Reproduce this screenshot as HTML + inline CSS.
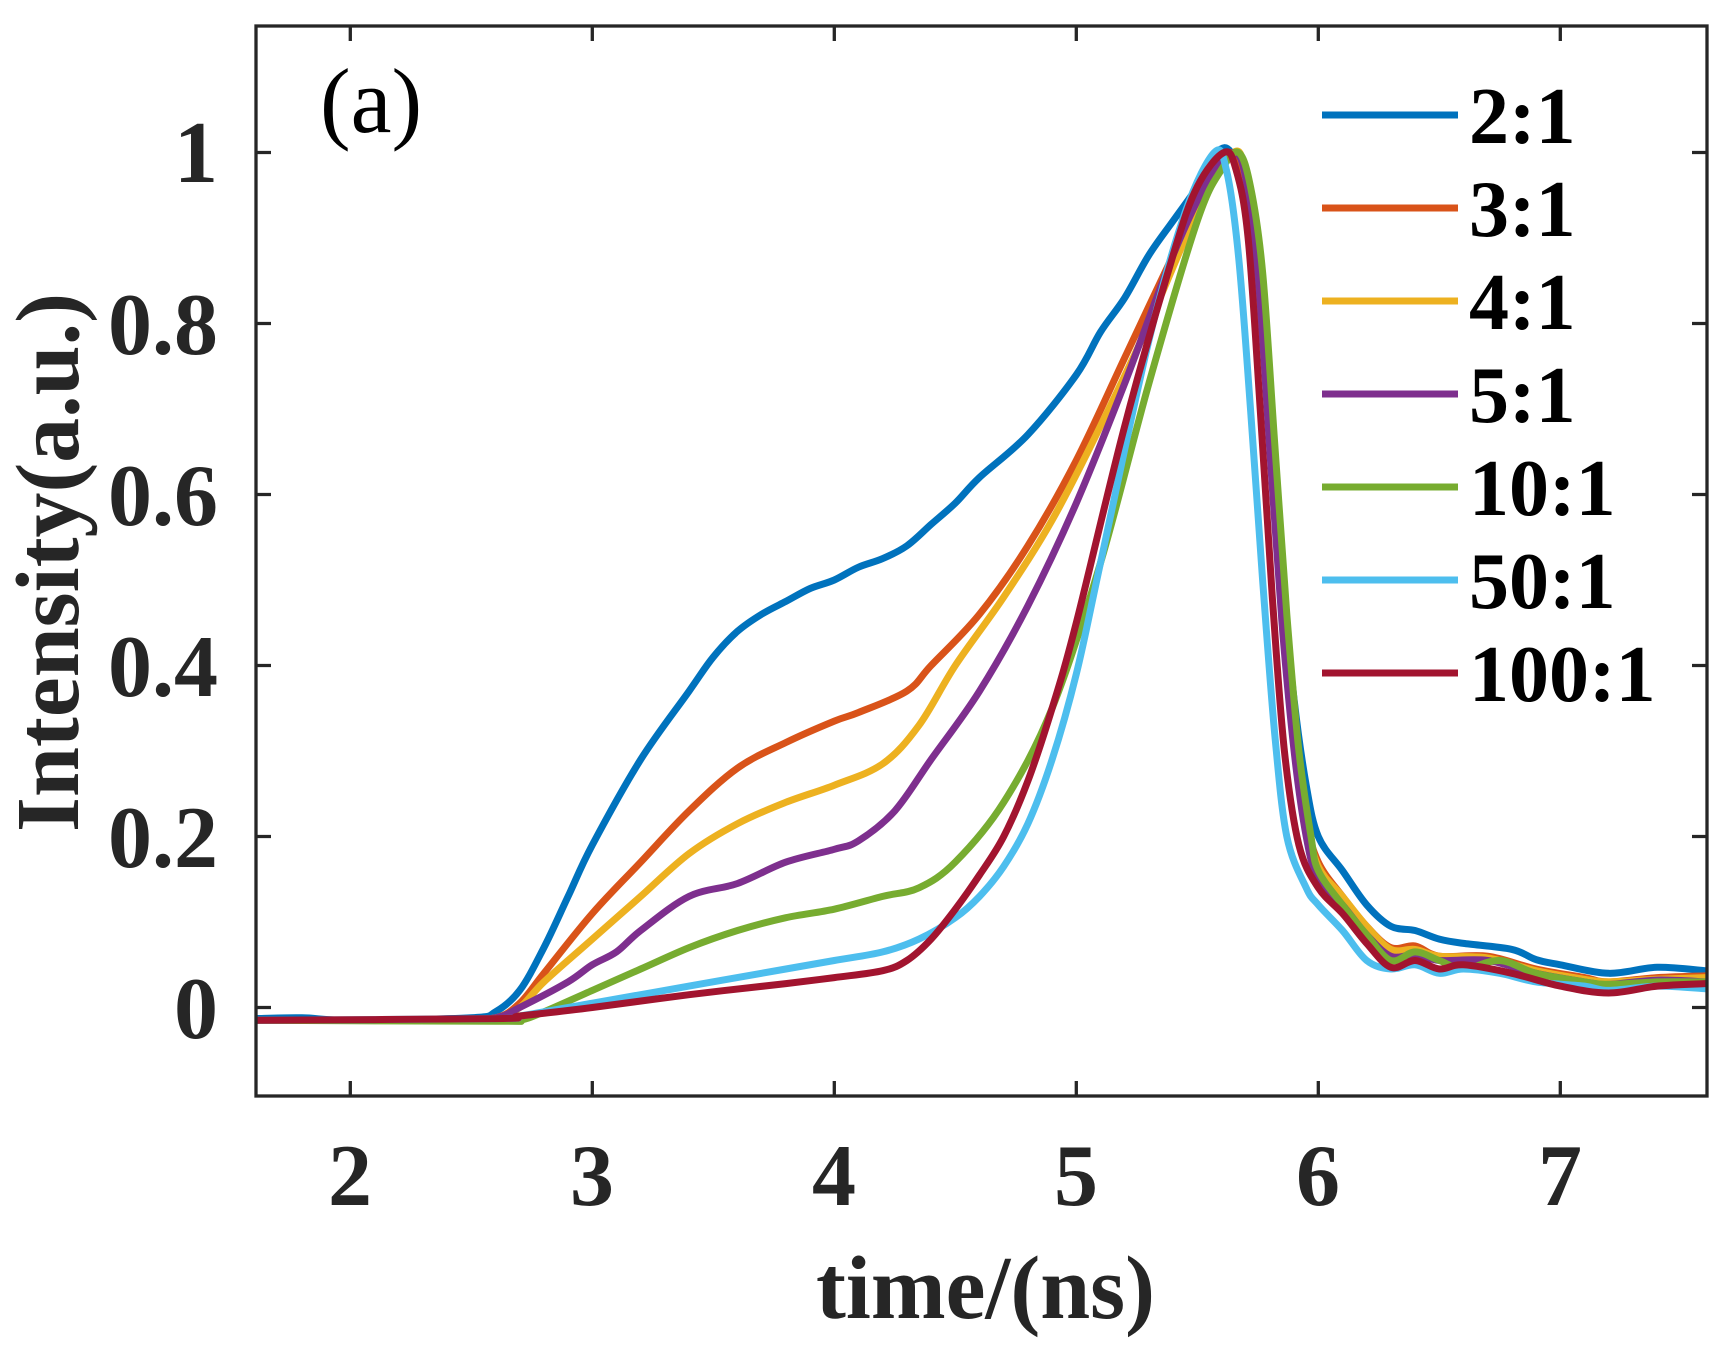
<!DOCTYPE html>
<html><head><meta charset="utf-8"><style>
html,body{margin:0;padding:0;background:#fff;}
svg{display:block;}
</style></head><body>
<svg id="s" width="1732" height="1358" viewBox="0 0 1732 1358" xmlns="http://www.w3.org/2000/svg" font-family="'Liberation Serif', serif">
<defs><clipPath id="c"><rect x="256" y="26" width="1451" height="1070"/></clipPath></defs>
<rect width="1732" height="1358" fill="#fff"/>
<g id="curves" clip-path="url(#c)" fill="none" stroke-width="7" stroke-linejoin="round" stroke-linecap="round"></g>
<g stroke="#262626" stroke-width="3.3" fill="none">
<rect x="256" y="26" width="1451" height="1070"/>
<path id="ticks" d=""/>
</g>
<g font-weight="bold" font-size="88" fill="#262626">
<g text-anchor="end">
<text x="218" y="1038">0</text><text x="218" y="867">0.2</text><text x="218" y="696">0.4</text>
<text x="218" y="525">0.6</text><text x="218" y="354">0.8</text><text x="218" y="182">1</text>
</g>
<g text-anchor="middle">
<text x="350" y="1205">2</text><text x="592" y="1205">3</text><text x="834" y="1205">4</text>
<text x="1076" y="1205">5</text><text x="1318" y="1205">6</text><text x="1560" y="1205">7</text>
</g>
<text x="816" y="1318" font-size="90" textLength="339" lengthAdjust="spacingAndGlyphs">time/(ns)</text>
<text transform="translate(78,832) rotate(-90)" font-size="90" textLength="539" lengthAdjust="spacingAndGlyphs">Intensity(a.u.)</text>
</g>
<text x="320" y="132" font-size="92" fill="#000">(a)</text>
<g id="legend" font-weight="bold" font-size="80" fill="#000"></g>
</svg>
<script>
const X=t=>350.3+(t-2)*242, Y=v=>1007.5-v*855;
const pre=[[1.6,-0.015],[2.0,-0.015],[2.4,-0.015],[2.6,-0.012]];
const S=[
["#0072BD",[[1.6,-0.013],[1.8,-0.012],[2.0,-0.015],[2.5,-0.012],[2.6,-0.005],[2.7,0.02],[2.8,0.07],[2.9,0.13],[3.0,0.19],[3.2,0.29],[3.4,0.37],[3.5,0.41],[3.6,0.44],[3.7,0.46],[3.8,0.475],[3.9,0.49],[4.0,0.50],[4.1,0.515],[4.2,0.525],[4.3,0.54],[4.4,0.565],[4.5,0.59],[4.6,0.62],[4.8,0.67],[5.0,0.74],[5.1,0.79],[5.2,0.83],[5.3,0.88],[5.4,0.92],[5.5,0.96],[5.58,1.0],[5.64,1.0],[5.7,0.95],[5.75,0.85],[5.8,0.68],[5.85,0.5],[5.9,0.36],[5.95,0.26],[6.0,0.2],[6.1,0.16],[6.2,0.12],[6.3,0.095],[6.4,0.09],[6.5,0.08],[6.6,0.075],[6.8,0.068],[6.9,0.056],[7.0,0.05],[7.2,0.04],[7.4,0.047],[7.6,0.043]]],
["#D95319",[...pre,[2.7,0.005],[2.8,0.04],[3.0,0.11],[3.2,0.17],[3.4,0.23],[3.6,0.28],[3.8,0.31],[4.0,0.335],[4.1,0.345],[4.3,0.37],[4.4,0.40],[4.6,0.46],[4.8,0.54],[5.0,0.64],[5.2,0.76],[5.4,0.88],[5.55,0.97],[5.64,1.0],[5.7,0.96],[5.75,0.85],[5.8,0.66],[5.85,0.46],[5.9,0.32],[5.95,0.22],[6.0,0.17],[6.1,0.13],[6.2,0.095],[6.3,0.07],[6.4,0.072],[6.5,0.06],[6.7,0.06],[6.9,0.045],[7.1,0.035],[7.2,0.03],[7.4,0.035],[7.6,0.037]]],
["#EDB120",[...pre,[2.7,0.0],[2.8,0.03],[3.0,0.08],[3.2,0.13],[3.4,0.18],[3.6,0.215],[3.8,0.24],[4.0,0.26],[4.2,0.285],[4.35,0.33],[4.5,0.4],[4.7,0.48],[4.9,0.57],[5.1,0.68],[5.3,0.8],[5.5,0.93],[5.65,1.0],[5.7,0.97],[5.75,0.86],[5.8,0.66],[5.85,0.46],[5.9,0.32],[5.95,0.22],[6.0,0.165],[6.1,0.13],[6.2,0.095],[6.3,0.068],[6.4,0.068],[6.5,0.06],[6.7,0.058],[6.9,0.043],[7.1,0.033],[7.2,0.03],[7.4,0.033],[7.6,0.035]]],
["#7E2F8E",[...pre,[2.7,0.0],[2.9,0.03],[3.0,0.05],[3.1,0.065],[3.2,0.09],[3.4,0.13],[3.6,0.145],[3.8,0.17],[4.0,0.185],[4.1,0.195],[4.25,0.23],[4.4,0.29],[4.6,0.37],[4.8,0.47],[5.0,0.59],[5.2,0.73],[5.4,0.88],[5.55,0.97],[5.65,1.0],[5.7,0.97],[5.75,0.86],[5.8,0.65],[5.85,0.45],[5.9,0.3],[5.95,0.2],[6.0,0.15],[6.1,0.12],[6.2,0.085],[6.3,0.06],[6.4,0.062],[6.5,0.055],[6.7,0.055],[6.9,0.04],[7.1,0.03],[7.2,0.027],[7.4,0.032],[7.6,0.03]]],
["#77AC30",[[1.6,-0.015],[2.6,-0.016],[2.7,-0.015],[2.8,-0.005],[3.0,0.02],[3.2,0.045],[3.4,0.07],[3.6,0.09],[3.8,0.105],[4.0,0.115],[4.2,0.13],[4.35,0.14],[4.5,0.17],[4.7,0.24],[4.9,0.35],[5.1,0.52],[5.3,0.73],[5.5,0.92],[5.6,0.98],[5.67,1.0],[5.72,0.96],[5.77,0.86],[5.82,0.66],[5.87,0.46],[5.92,0.3],[5.97,0.2],[6.0,0.16],[6.1,0.12],[6.2,0.085],[6.3,0.055],[6.4,0.065],[6.5,0.055],[6.6,0.045],[6.75,0.055],[6.9,0.04],[7.1,0.03],[7.2,0.027],[7.4,0.03],[7.6,0.03]]],
["#4DBEEE",[[1.6,-0.015],[2.6,-0.013],[2.7,-0.01],[3.0,0.005],[3.4,0.025],[3.8,0.045],[4.0,0.055],[4.2,0.065],[4.35,0.08],[4.5,0.105],[4.6,0.13],[4.7,0.165],[4.8,0.215],[4.9,0.29],[5.0,0.39],[5.1,0.52],[5.3,0.78],[5.45,0.93],[5.57,1.0],[5.62,0.98],[5.67,0.88],[5.72,0.7],[5.77,0.5],[5.82,0.32],[5.87,0.2],[5.95,0.14],[6.0,0.12],[6.1,0.09],[6.2,0.055],[6.3,0.045],[6.4,0.05],[6.5,0.04],[6.6,0.045],[6.75,0.04],[6.9,0.03],[7.1,0.025],[7.2,0.02],[7.4,0.025],[7.6,0.022]]],
["#A2142F",[[1.6,-0.015],[2.6,-0.013],[2.7,-0.01],[3.0,0.0],[3.4,0.015],[3.8,0.028],[4.0,0.035],[4.2,0.043],[4.3,0.055],[4.4,0.08],[4.5,0.115],[4.6,0.155],[4.7,0.2],[4.8,0.265],[4.9,0.35],[5.0,0.45],[5.2,0.68],[5.4,0.88],[5.5,0.96],[5.61,1.0],[5.66,0.98],[5.71,0.9],[5.76,0.7],[5.81,0.48],[5.86,0.3],[5.92,0.19],[6.0,0.14],[6.1,0.11],[6.2,0.075],[6.3,0.047],[6.4,0.055],[6.5,0.045],[6.6,0.05],[6.8,0.04],[7.0,0.025],[7.2,0.017],[7.4,0.025],[7.6,0.028]]]
];
function smooth(pts){
  let d='M'+pts[0][0].toFixed(1)+','+pts[0][1].toFixed(1);
  for(let i=0;i<pts.length-1;i++){
    const p0=pts[Math.max(0,i-1)],p1=pts[i],p2=pts[i+1],p3=pts[Math.min(pts.length-1,i+2)];
    const c1=[p1[0]+(p2[0]-p0[0])/6,p1[1]+(p2[1]-p0[1])/6];
    const c2=[p2[0]-(p3[0]-p1[0])/6,p2[1]-(p3[1]-p1[1])/6];
    d+=`C${c1[0].toFixed(1)},${c1[1].toFixed(1)} ${c2[0].toFixed(1)},${c2[1].toFixed(1)} ${p2[0].toFixed(1)},${p2[1].toFixed(1)}`;
  }
  return d;
}
const NS="http://www.w3.org/2000/svg";
const g=document.getElementById('curves');
for(const [c,d] of S){const p=document.createElementNS(NS,'path');
p.setAttribute('d',smooth(d.map(q=>[X(q[0]),Y(q[1])])));
p.setAttribute('stroke',c);g.appendChild(p);}
let t='';
for(let i=2;i<=7;i++){const x=X(i);t+=`M${x},1096V1081M${x},26V41`;}
for(let v=0;v<=1.001;v+=0.2){const y=Y(v);t+=`M256,${y}H271M1707,${y}H1692`;}
document.getElementById('ticks').setAttribute('d',t);
const L=document.getElementById('legend');
const labs=['2:1','3:1','4:1','5:1','10:1','50:1','100:1'];
labs.forEach((l,i)=>{const y=115+i*93;
const r=document.createElementNS(NS,'rect');r.setAttribute('x',1322);r.setAttribute('y',y-3.5);r.setAttribute('width',136);r.setAttribute('height',7);r.setAttribute('fill',S[i][0]);L.appendChild(r);
const tx=document.createElementNS(NS,'text');tx.setAttribute('x',1469);tx.setAttribute('y',y+28);tx.textContent=l;L.appendChild(tx);});
</script>
</body></html>
